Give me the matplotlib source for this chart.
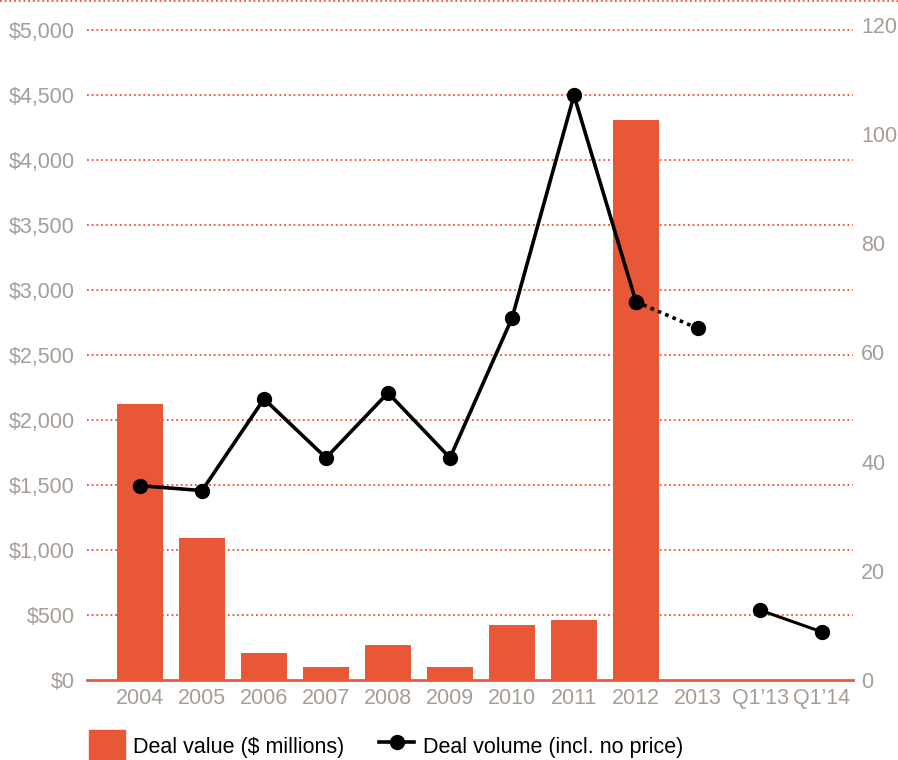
import matplotlib.pyplot as plt
from matplotlib.lines import Line2D
from matplotlib.patches import Patch
import numpy as np

categories = ["2004", "2005", "2006", "2007", "2008", "2009", "2010",
              "2011", "2012", "2013", "Q1\u201913", "Q1\u201914"]
deal_value = [2125, 1095, 210, 100, 270, 100, 425, 465, 4310, 0, 0, 0]
deal_volume = [35.6, 34.7, 51.5, 40.7, 52.6, 40.7, 66.3, 107.1, 69.3, 64.4, 12.8, 8.8]

BAR = "#e85836"
GRID = "#f0502c"
GREY = "#a59d96"

plt.rcParams["font.family"] = ["Liberation Sans", "DejaVu Sans"]

fig = plt.figure(figsize=(8.98, 7.6), dpi=100)
ax = fig.add_axes([87 / 898, 80 / 760, 766 / 898, 655 / 760])
ax2 = ax.twinx()

x = np.arange(len(categories))
ax.bar(x, deal_value, width=0.74, color=BAR, zorder=2)

ax.set_xlim(-0.855, 11.5)
ax.set_ylim(0, 5038.5)
ax.set_yticks(np.arange(0, 5001, 500))
ax.set_yticklabels([f"${v:,}" for v in range(0, 5001, 500)])
ax.set_xticks(x)
ax.set_xticklabels(categories)
ax.tick_params(axis="y", length=0, pad=9, labelsize=15.5, labelcolor=GREY)
ax.tick_params(axis="x", length=0, pad=6, labelsize=15.5, labelcolor=GREY)
dots = (0, (1, 1.6))
for yv in range(500, 5001, 500):
    ax.axhline(yv, color=GRID, lw=1.3, ls=dots, zorder=1)
for s in ["top", "left", "right"]:
    ax.spines[s].set_visible(False)
ax.spines["bottom"].set_color(BAR)
ax.spines["bottom"].set_linewidth(2)

vol = np.array(deal_volume)
ax2.plot(x[:9], vol[:9], color="black", lw=2.6, marker="o", ms=10, zorder=3)
ax2.plot(x[8:10], vol[8:10], color="black", lw=2.6, ls=(0, (1, 1.2)),
         marker="o", ms=10, zorder=3)
ax2.plot(x[10:12], vol[10:12], color="black", lw=2.2, marker="o", ms=10, zorder=3)
ax2.set_ylim(0, 120)
ax2.set_yticks(np.arange(0, 121, 20))
ax2.tick_params(axis="y", length=0, pad=6, labelsize=15.5, labelcolor=GREY)
for s in ["top", "left", "right", "bottom"]:
    ax2.spines[s].set_visible(False)

# dotted border line along the top edge
fig.add_artist(Line2D([0, 1], [0.999, 0.999], transform=fig.transFigure,
                      color=GRID, lw=1.3, ls=dots))

handles = [Patch(color=BAR),
           Line2D([], [], color="black", lw=2.6, marker="o", ms=10)]
fig.legend(handles, ["Deal value ($ millions)", "Deal volume (incl. no price)"],
           loc="lower left", bbox_to_anchor=(89 / 898, -0.004), ncol=2,
           frameon=False, fontsize=15.5, handlelength=1.65, handleheight=2.0,
           handletextpad=0.4, columnspacing=1.6, borderpad=0, borderaxespad=0)

fig.savefig("out.png", dpi=100)
